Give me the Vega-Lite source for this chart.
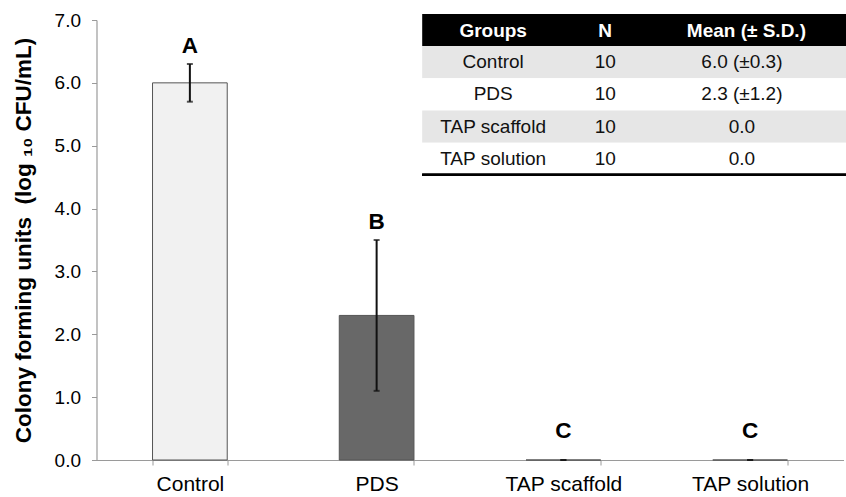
{
  "$schema": "https://vega.github.io/schema/vega-lite/v6.json",
  "width": 747,
  "height": 440,
  "autosize": "none",
  "padding": {"left": 96.5, "top": 20, "right": 2.5, "bottom": 37},
  "background": "white",
  "config": {
    "font": "Liberation Sans",
    "view": {"stroke": null},
    "axis": {"grid": false, "domainColor": "#9a9a9a", "tickColor": "#9a9a9a", "labelColor": "#000000", "titleColor": "#000000", "labelFont": "Liberation Sans", "titleFont": "Liberation Sans"}
  },
  "datasets": {
    "bars": [
      {"group": "Control", "mean": 6.0, "lo": 5.7, "hi": 6.3, "letter": "A", "letter_y": 6.47},
      {"group": "PDS", "mean": 2.3, "lo": 1.1, "hi": 3.5, "letter": "B", "letter_y": 3.67},
      {"group": "TAP scaffold", "mean": 0.0, "lo": 0.0, "hi": 0.0, "letter": "C", "letter_y": 0.35},
      {"group": "TAP solution", "mean": 0.0, "lo": 0.0, "hi": 0.0, "letter": "C", "letter_y": 0.35}
    ],
    "table": [
      {"g": "Groups", "n": "N", "m": "Mean (± S.D.)", "r0": 0, "r1": 1, "kind": "header"},
      {"g": "Control", "n": "10", "m": "6.0 (±0.3)", "r0": 1, "r1": 2, "kind": "odd"},
      {"g": "PDS", "n": "10", "m": "2.3 (±1.2)", "r0": 2, "r1": 3, "kind": "even"},
      {"g": "TAP scaffold", "n": "10", "m": "0.0", "r0": 3, "r1": 4, "kind": "odd"},
      {"g": "TAP solution", "n": "10", "m": "0.0", "r0": 4, "r1": 5, "kind": "even"}
    ]
  },
  "layer": [
    {
      "data": {"name": "bars"},
      "encoding": {
        "x": {
          "field": "group", "type": "nominal", "sort": null,
          "scale": {"paddingInner": 0.6, "paddingOuter": 0.3},
          "axis": {"title": null, "labelAngle": 0, "labelFontSize": 21, "labelPadding": 8, "tickSize": 5, "tickBand": "extent", "domainWidth": 1.2}
        }
      },
      "layer": [
        {
          "mark": {"type": "bar", "stroke": "#555555", "strokeWidth": 1},
          "encoding": {
            "y": {
              "field": "mean", "type": "quantitative",
              "scale": {"domain": [0, 7], "nice": false},
              "axis": {"title": "Colony forming units\u00a0 (log ₁₀ CFU/mL)", "values": [0, 1, 2, 3, 4, 5, 6, 7], "format": ".1f", "labelFontSize": 19, "labelPadding": 11, "tickSize": 5, "titleFontSize": 22.5, "titleFontWeight": "bold", "titlePadding": 19, "domainWidth": 1.2}
            },
            "fill": {"condition": {"test": "datum.group === 'Control'", "value": "#f1f1f1"}, "value": "#686868"}
          }
        },
        {
          "mark": {"type": "rule", "color": "#111111", "strokeWidth": 2},
          "encoding": {
            "y": {"field": "lo", "type": "quantitative", "scale": {"domain": [0, 7], "nice": false}, "title": "Colony forming units\u00a0 (log ₁₀ CFU/mL)"},
            "y2": {"field": "hi"}
          }
        },
        {
          "mark": {"type": "tick", "color": "#111111", "thickness": 2, "size": 6},
          "encoding": {
            "y": {"field": "lo", "type": "quantitative", "scale": {"domain": [0, 7], "nice": false}, "title": "Colony forming units\u00a0 (log ₁₀ CFU/mL)"}
          }
        },
        {
          "mark": {"type": "tick", "color": "#111111", "thickness": 2, "size": 6},
          "encoding": {
            "y": {"field": "hi", "type": "quantitative", "scale": {"domain": [0, 7], "nice": false}, "title": "Colony forming units\u00a0 (log ₁₀ CFU/mL)"}
          }
        },
        {
          "mark": {"type": "text", "fontSize": 22.5, "fontWeight": "bold", "baseline": "alphabetic", "align": "center", "color": "#000000"},
          "encoding": {
            "y": {"field": "letter_y", "type": "quantitative", "scale": {"domain": [0, 7], "nice": false}, "title": "Colony forming units\u00a0 (log ₁₀ CFU/mL)"},
            "text": {"field": "letter"}
          }
        }
      ]
    },
    {
      "data": {"name": "table"},
      "layer": [
        {
          "mark": {"type": "rect"},
          "encoding": {
            "x": {"datum": 43.6, "type": "quantitative", "scale": {"domain": [0, 100], "nice": false, "zero": false}, "axis": null},
            "x2": {"datum": 100.5},
            "y": {"field": "r0", "type": "quantitative", "scale": {"domain": [0.19, 13.85], "reverse": true, "nice": false, "zero": false}, "axis": null},
            "y2": {"field": "r1"},
            "fill": {"condition": [{"test": "datum.kind === 'header'", "value": "#000000"}, {"test": "datum.kind === 'odd'", "value": "#e6e6e6"}], "value": "#ffffff"}
          }
        },
        {
          "mark": {"type": "rule", "color": "#000000", "strokeWidth": 2.2},
          "encoding": {
            "x": {"datum": 43.6, "type": "quantitative", "scale": {"domain": [0, 100], "nice": false, "zero": false}, "axis": null},
            "x2": {"datum": 100.5},
            "y": {"datum": 5, "type": "quantitative", "scale": {"domain": [0.19, 13.85], "reverse": true, "nice": false, "zero": false}, "axis": null}
          }
        },
        {
          "transform": [{"filter": "datum.kind === 'header'"}],
          "layer": [
            {"mark": {"type": "text", "fontSize": 19, "fontWeight": "bold", "color": "#ffffff", "baseline": "middle", "dy": 17}, "encoding": {"x": {"datum": 53.1, "type": "quantitative", "scale": {"domain": [0, 100], "nice": false, "zero": false}, "axis": null}, "y": {"field": "r0", "type": "quantitative", "scale": {"domain": [0.19, 13.85], "reverse": true, "nice": false, "zero": false}, "axis": null}, "text": {"field": "g"}}},
            {"mark": {"type": "text", "fontSize": 19, "fontWeight": "bold", "color": "#ffffff", "baseline": "middle", "dy": 17}, "encoding": {"x": {"datum": 68.1, "type": "quantitative", "scale": {"domain": [0, 100], "nice": false, "zero": false}, "axis": null}, "y": {"field": "r0", "type": "quantitative", "scale": {"domain": [0.19, 13.85], "reverse": true, "nice": false, "zero": false}, "axis": null}, "text": {"field": "n"}}},
            {"mark": {"type": "text", "fontSize": 19, "fontWeight": "bold", "color": "#ffffff", "baseline": "middle", "dy": 17}, "encoding": {"x": {"datum": 87.0, "type": "quantitative", "scale": {"domain": [0, 100], "nice": false, "zero": false}, "axis": null}, "y": {"field": "r0", "type": "quantitative", "scale": {"domain": [0.19, 13.85], "reverse": true, "nice": false, "zero": false}, "axis": null}, "text": {"field": "m"}}}
          ]
        },
        {
          "transform": [{"filter": "datum.kind !== 'header'"}],
          "layer": [
            {"mark": {"type": "text", "fontSize": 19, "color": "#111111", "baseline": "middle", "dy": 16}, "encoding": {"x": {"datum": 53.1, "type": "quantitative", "scale": {"domain": [0, 100], "nice": false, "zero": false}, "axis": null}, "y": {"field": "r0", "type": "quantitative", "scale": {"domain": [0.19, 13.85], "reverse": true, "nice": false, "zero": false}, "axis": null}, "text": {"field": "g"}}},
            {"mark": {"type": "text", "fontSize": 19, "color": "#111111", "baseline": "middle", "dy": 16}, "encoding": {"x": {"datum": 68.1, "type": "quantitative", "scale": {"domain": [0, 100], "nice": false, "zero": false}, "axis": null}, "y": {"field": "r0", "type": "quantitative", "scale": {"domain": [0.19, 13.85], "reverse": true, "nice": false, "zero": false}, "axis": null}, "text": {"field": "n"}}},
            {"mark": {"type": "text", "fontSize": 19, "color": "#111111", "baseline": "middle", "dy": 16}, "encoding": {"x": {"datum": 86.4, "type": "quantitative", "scale": {"domain": [0, 100], "nice": false, "zero": false}, "axis": null}, "y": {"field": "r0", "type": "quantitative", "scale": {"domain": [0.19, 13.85], "reverse": true, "nice": false, "zero": false}, "axis": null}, "text": {"field": "m"}}}
          ]
        }
      ]
    }
  ],
  "resolve": {"scale": {"x": "independent", "y": "independent"}, "axis": {"x": "independent", "y": "independent"}}
}
